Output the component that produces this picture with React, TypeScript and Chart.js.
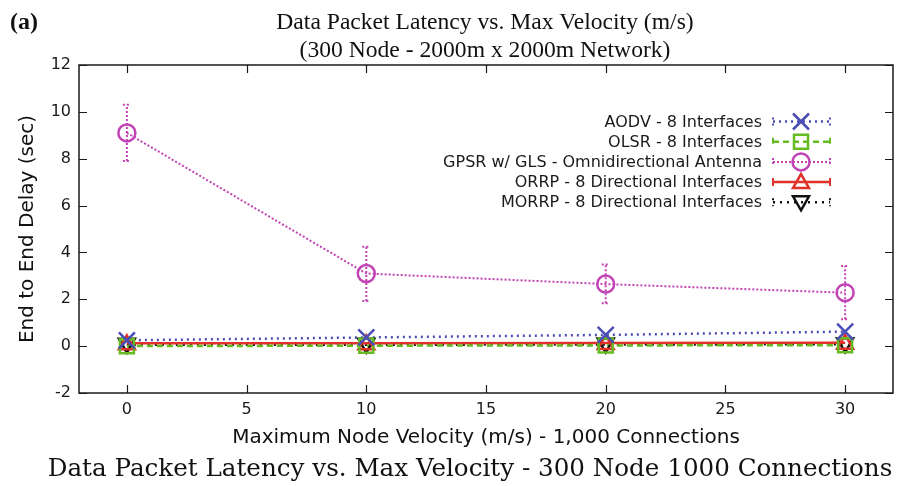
import React, { useEffect, useRef } from 'react';
import { Chart, registerables } from 'chart.js';

Chart.register(...registerables);

const velocities = [0, 10, 20, 30];
const aodv = [0.25, 0.37, 0.48, 0.62];
const olsr = [0.0, 0.02, 0.03, 0.04];
const gpsr = [9.1, 3.1, 2.65, 2.28];
const gpsrLow = [7.9, 1.93, 1.83, 1.15];
const gpsrHigh = [10.3, 4.24, 3.48, 3.42];
const orrp = [0.12, 0.12, 0.13, 0.14];
const morrp = [0.06, 0.06, 0.07, 0.08];

const xTicks = [0, 5, 10, 15, 20, 25, 30];
const yTicks = [-2, 0, 2, 4, 6, 8, 10, 12];

const seriesNames = [
  'AODV - 8 Interfaces',
  'OLSR - 8 Interfaces',
  'GPSR w/ GLS - Omnidirectional Antenna',
  'ORRP - 8 Directional Interfaces',
  'MORRP - 8 Directional Interfaces',
];

const titleLine1 = 'Data Packet Latency vs. Max Velocity (m/s)';
const titleLine2 = '(300 Node - 2000m x 2000m Network)';
const panelLabel = '(a)';
const xTitle = 'Maximum Node Velocity (m/s) - 1,000 Connections';
const yTitle = 'End to End Delay (sec)';
const caption = 'Data Packet Latency vs. Max Velocity - 300 Node 1000 Connections';

const SANS = '"DejaVu Sans", sans-serif';

type Style = { color: string; dash: number[]; marker: string; width: number };
const styles: Style[] = [
  { color: '#4a4db5', dash: [2, 4], marker: 'crossRot', width: 2.5 },
  { color: '#66bb22', dash: [6, 4], marker: 'rect', width: 2.5 },
  { color: '#c243b4', dash: [2, 2], marker: 'circle', width: 2 },
  { color: '#e0322a', dash: [], marker: 'triangle', width: 2.5 },
  { color: '#111111', dash: [2, 5], marker: 'triangleDown', width: 2.5 },
];

const seriesValues = [aodv, olsr, gpsr, orrp, morrp];

function drawMarker(ctx: CanvasRenderingContext2D, kind: string, x: number, y: number, r: number, color: string) {
  ctx.save();
  ctx.setLineDash([]);
  ctx.strokeStyle = color;
  ctx.lineWidth = 2.5;
  ctx.beginPath();
  if (kind === 'crossRot') {
    ctx.moveTo(x - r, y - r); ctx.lineTo(x + r, y + r);
    ctx.moveTo(x + r, y - r); ctx.lineTo(x - r, y + r);
  } else if (kind === 'rect') {
    ctx.rect(x - r, y - r, 2 * r, 2 * r);
  } else if (kind === 'circle') {
    ctx.arc(x, y, r, 0, Math.PI * 2);
  } else if (kind === 'triangle') {
    ctx.moveTo(x, y - r); ctx.lineTo(x + r, y + r * 0.75); ctx.lineTo(x - r, y + r * 0.75); ctx.closePath();
  } else if (kind === 'triangleDown') {
    ctx.moveTo(x, y + r); ctx.lineTo(x + r, y - r * 0.75); ctx.lineTo(x - r, y - r * 0.75); ctx.closePath();
  }
  ctx.stroke();
  ctx.restore();
}

const decorPlugin = {
  id: 'decor',
  afterDatasetsDraw(chart: any) {
    const ctx: CanvasRenderingContext2D = chart.ctx;
    const xs = chart.scales.x;
    const ys = chart.scales.y;
    // error bars for GPSR
    const st = styles[2];
    ctx.save();
    ctx.strokeStyle = st.color;
    ctx.lineWidth = 2;
    ctx.setLineDash([2, 2]);
    velocities.forEach((v, i) => {
      const px = xs.getPixelForValue(v);
      const y1 = ys.getPixelForValue(gpsrLow[i]);
      const y2 = ys.getPixelForValue(gpsrHigh[i]);
      ctx.beginPath();
      ctx.moveTo(px, y1); ctx.lineTo(px, y2);
      ctx.moveTo(px - 4, y1); ctx.lineTo(px + 4, y1);
      ctx.moveTo(px - 4, y2); ctx.lineTo(px + 4, y2);
      ctx.stroke();
    });
    ctx.restore();
    // markers
    for (let s = seriesValues.length - 1; s >= 0; s--) {
      const sty = styles[s];
      const r = sty.marker === 'circle' ? 8.5 : sty.marker === 'rect' ? 7 : 8;
      velocities.forEach((v, i) => {
        drawMarker(ctx, sty.marker, xs.getPixelForValue(v), ys.getPixelForValue(seriesValues[s][i]), r, sty.color);
      });
    }
  },
  afterDraw(chart: any) {
    const ctx: CanvasRenderingContext2D = chart.ctx;
    const { left, right, top, bottom } = chart.chartArea;
    const xs = chart.scales.x;
    const ys = chart.scales.y;
    ctx.save();
    // frame
    ctx.strokeStyle = '#1a1a1a';
    ctx.lineWidth = 1.5;
    ctx.setLineDash([]);
    ctx.strokeRect(left, top, right - left, bottom - top);
    // inward ticks
    ctx.lineWidth = 1.2;
    ctx.beginPath();
    xTicks.forEach((v) => {
      const px = Math.round(xs.getPixelForValue(v)) + 0.5;
      ctx.moveTo(px, bottom); ctx.lineTo(px, bottom - 8);
      ctx.moveTo(px, top); ctx.lineTo(px, top + 8);
    });
    yTicks.forEach((v) => {
      const py = Math.round(ys.getPixelForValue(v)) + 0.5;
      ctx.moveTo(left, py); ctx.lineTo(left + 8, py);
      ctx.moveTo(right, py); ctx.lineTo(right - 8, py);
    });
    ctx.stroke();

    // legend
    const textRight = 762;
    const x0 = 773;
    const x1 = 830;
    const xm = 801;
    const rowY0 = 121.5;
    const rowDy = 20.2;
    ctx.font = '16px ' + SANS;
    ctx.textAlign = 'right';
    ctx.textBaseline = 'middle';
    seriesNames.forEach((name, i) => {
      const y = rowY0 + i * rowDy;
      const sty = styles[i];
      ctx.fillStyle = '#1a1a1a';
      ctx.fillText(name, textRight, y + 1);
      ctx.strokeStyle = sty.color;
      ctx.lineWidth = sty.width;
      ctx.setLineDash(sty.dash);
      ctx.beginPath();
      ctx.moveTo(x0, y); ctx.lineTo(x1, y);
      ctx.stroke();
      ctx.setLineDash(i === 3 ? [] : sty.dash);
      ctx.lineWidth = 2;
      ctx.beginPath();
      ctx.moveTo(x0, y - 4); ctx.lineTo(x0, y + 4);
      ctx.moveTo(x1, y - 4); ctx.lineTo(x1, y + 4);
      ctx.stroke();
      const r = sty.marker === 'circle' ? 8.5 : sty.marker === 'rect' ? 7 : 8;
      drawMarker(ctx, sty.marker, xm, y, r, sty.color);
    });

    // titles
    ctx.fillStyle = '#111';
    ctx.textAlign = 'left';
    ctx.textBaseline = 'alphabetic';
    ctx.font = 'bold 24px "Liberation Serif", serif';
    ctx.fillText(panelLabel, 10, 29);
    ctx.textAlign = 'center';
    ctx.font = '23.6px "Liberation Serif", serif';
    ctx.fillText(titleLine1, 485, 29);
    ctx.fillText(titleLine2, 485, 57);
    ctx.font = '24.6px "DejaVu Serif", serif';
    ctx.fillText(caption, 470, 476);
    ctx.restore();
  },
};

export default function App() {
  const ref = useRef<HTMLCanvasElement | null>(null);
  useEffect(() => {
    if (!ref.current) return;
    const datasets = seriesNames.map((name, i) => ({
      label: name,
      data: velocities.map((v, j) => ({ x: v, y: seriesValues[i][j] })),
      borderColor: styles[i].color,
      borderWidth: styles[i].width,
      borderDash: styles[i].dash,
      pointRadius: 0,
      fill: false,
      tension: 0,
    }));
    const chart = new Chart(ref.current, {
      type: 'line',
      data: { datasets },
      options: {
        responsive: false,
        animation: false,
        layout: { padding: { top: 65, right: 11, bottom: 36, left: 0 } },
        plugins: { legend: { display: false }, tooltip: { enabled: false }, title: { display: false } },
        scales: {
          x: {
            type: 'linear',
            min: -2,
            max: 32,
            afterBuildTicks: (s: any) => { s.ticks = xTicks.map((v) => ({ value: v })); },
            afterFit: (s: any) => { s.height = 57; },
            grid: { display: false, drawTicks: false },
            border: { display: false },
            ticks: { font: { family: SANS, size: 16 }, color: '#1a1a1a', padding: 7, maxRotation: 0, autoSkip: false },
            title: { display: true, text: xTitle, font: { family: SANS, size: 20 }, color: '#111', padding: { top: 0, bottom: 0 } },
          },
          y: {
            type: 'linear',
            min: -2,
            max: 12,
            afterBuildTicks: (s: any) => { s.ticks = yTicks.map((v) => ({ value: v })); },
            afterFit: (s: any) => { s.width = 79; },
            grid: { display: false, drawTicks: false },
            border: { display: false },
            ticks: { font: { family: SANS, size: 16 }, color: '#1a1a1a', padding: 8, autoSkip: false },
            title: { display: true, text: yTitle, font: { family: SANS, size: 20 }, color: '#111', padding: { top: 16, bottom: 0 } },
          },
        },
      },
      plugins: [decorPlugin],
    });
    return () => chart.destroy();
  }, []);
  return (
    <div style={{ position: 'fixed', left: 0, top: 0, width: 904, height: 486, background: '#fff' }}>
      <canvas ref={ref} width={904} height={486} style={{ width: 904, height: 486, display: 'block' }} />
    </div>
  );
}
